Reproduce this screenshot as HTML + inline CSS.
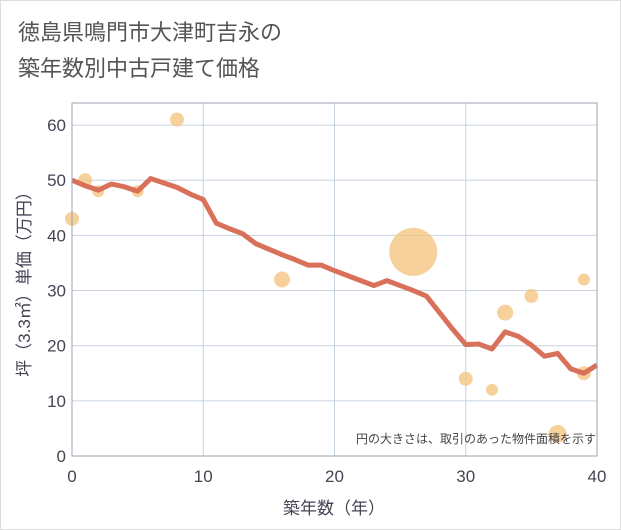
<!DOCTYPE html>
<html><head><meta charset="utf-8"><style>
body{margin:0;background:#fff;font-family:"Liberation Sans","Noto Sans CJK JP",sans-serif}
#wrap{position:relative;width:619px;height:528px;border:1px solid #ddd;background:#fff}
</style></head><body>
<div id="wrap">
<svg id="svg" width="621" height="530" style="position:absolute;left:-1px;top:-1px">
<text x="18" y="40" font-size="22" fill="#555">徳島県鳴門市大津町吉永の</text>
<text x="18" y="76" font-size="22" fill="#555">築年数別中古戸建て価格</text>
<g id="grid"></g><g id="bubbles"></g><g id="line"></g><g id="axes"></g>
<text x="596" y="443" font-size="12" fill="#444" text-anchor="end">円の大きさは、取引のあった物件面積を示す</text>
<text x="334" y="514" font-size="17" fill="#445" text-anchor="middle">築年数（年）</text>
<text transform="translate(30,280) rotate(-90)" font-size="17" fill="#445" text-anchor="middle">坪（3.3㎡）単価（万円）</text>
</svg></div>
<script>
const xTicks=[0,10,20,30,40];
const yTicks=[0,10,20,30,40,50,60];
const lineYears=[0,1,2,3,4,5,6,7,8,9,10,11,12,13,14,15,16,17,18,19,20,21,22,23,24,25,26,27,28,29,30,31,32,33,34,35,36,37,38,39,40];
const linePrices=[50,49,48.2,49.3,48.8,48,50.3,49.5,48.7,47.5,46.5,42.2,41.2,40.3,38.5,37.5,36.5,35.6,34.6,34.6,33.6,32.7,31.8,30.9,31.8,30.9,30,29,26,23,20.2,20.3,19.4,22.5,21.7,20.1,18.1,18.6,15.8,15,16.5];
const bubbleYears=[0,1,2,5,8,16,26,30,32,33,35,37,39,39];
const bubblePrices=[43,50,48,48,61,32,37,14,12,26,29,4,32,15];
const bubbleSizes=[7,7,6,6,7,8,24,7,6,8,7,9,6,7];
const X0=72,X1=597,Y0=456,YT=103;
const xs=v=>X0+(v-0)/40*(X1-X0);
const ys=v=>Y0-v/64*(Y0-YT);
const NS='http://www.w3.org/2000/svg';
function mk(tag,attrs,parent){const e=document.createElementNS(NS,tag);for(const k in attrs)e.setAttribute(k,attrs[k]);parent.appendChild(e);return e;}
const grid=document.getElementById('grid'),axes=document.getElementById('axes');
xTicks.forEach(t=>{
 const l=mk('line',{x1:xs(t),x2:xs(t),y1:YT,y2:Y0,stroke:'#c8d3e0','stroke-width':1},grid);
 
 
 const tx=mk('text',{x:xs(t),y:Y0+26,'font-size':17,fill:'#445','text-anchor':'middle'},axes);
 tx.textContent=t;
 
 
});
yTicks.forEach(t=>{
 const l=mk('line',{x1:X0,x2:X1,y1:ys(t),y2:ys(t),stroke:'#c8d3e0','stroke-width':1},grid);
 
 
 const tx=mk('text',{x:X0-6,y:ys(t)+6,'font-size':17,fill:'#445','text-anchor':'end'},axes);
 tx.textContent=t;
 
 
});
const fr=mk('rect',{x:X0,y:YT,width:X1-X0,height:Y0-YT,fill:'none',stroke:'#9aa5b1','stroke-width':1},axes);


const bg=document.getElementById('bubbles');
bubbleYears.forEach((y,i)=>{
 const c=mk('circle',{cx:xs(y),cy:ys(bubblePrices[i]),r:bubbleSizes[i],fill:'#f3c27a','fill-opacity':0.75},bg);
 
 
});
const p=mk('polyline',{points:lineYears.map((y,i)=>xs(y)+','+ys(linePrices[i])).join(' '),fill:'none',stroke:'#d9705a','stroke-width':5,'stroke-linejoin':'round'},document.getElementById('line'));


</script>
</body></html>
